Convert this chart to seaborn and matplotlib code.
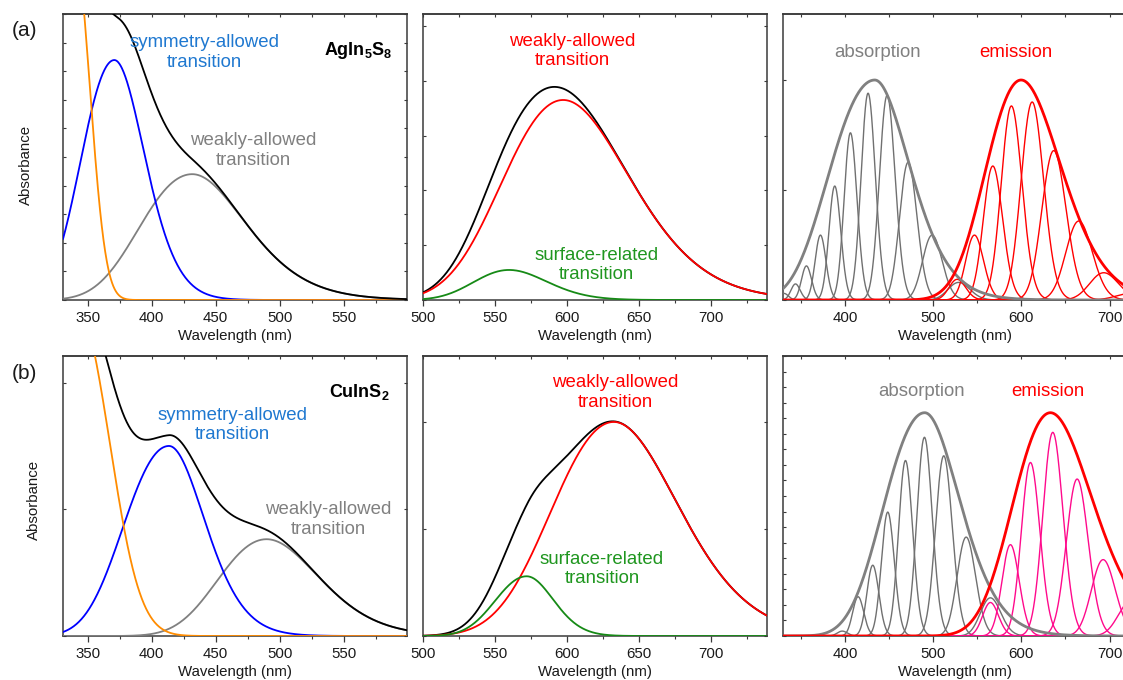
import numpy as np
import matplotlib
matplotlib.use("Agg")
import matplotlib.pyplot as plt
from matplotlib.ticker import MultipleLocator, FixedLocator
import seaborn as sns

HC = 1239.84  # eV * nm

# ---------------- (a) AgIn5S8 ----------------
# absorption decomposition: band-edge tail, symmetry-allowed, weakly-allowed
agis_abs_center = [330.0, 370.8, 431.7]
agis_abs_height = [1.387, 0.839, 0.44]
agis_abs_sig_hi = [0.2154, 0.245, 0.29]
agis_abs_sig_lo = [0.2154, 0.20, 0.255]
agis_abs_power = [3.0, 2.0, 2.0]

# photoluminescence decomposition: weakly-allowed, surface-related
agis_pl_center = [597.6, 560.0]
agis_pl_height = [0.912, 0.137]
agis_pl_sig_hi = [0.155, 0.10]
agis_pl_sig_lo = [0.15, 0.10]

# vibronic progressions (absorption / emission)
agis_vib_abs_center = [331.0, 344.0, 356.4, 372.3, 388.5, 406.3, 426.3, 447.9, 471.7, 498.9, 529.0]
agis_vib_abs_height = [0.03, 0.073, 0.155, 0.295, 0.518, 0.76, 0.94, 0.93, 0.626, 0.295, 0.08]
agis_vib_abs_sigma = 0.055
agis_vib_em_center = [527.3, 546.9, 567.7, 588.8, 612.3, 636.8, 665.2, 693.5, 725.0]
agis_vib_em_height = [0.094, 0.295, 0.609, 0.882, 0.90, 0.679, 0.359, 0.124, 0.03]
agis_vib_em_sigma = 0.042
agis_env_center = [433.9, 599.8]
agis_env_height = [1.0, 1.0]
agis_env_sig_hi = [0.37, 0.145]
agis_env_sig_lo = [0.24, 0.145]

# ---------------- (b) CuInS2 ----------------
cis_abs_center = [330.0, 413.5, 489.8]
cis_abs_height = [1.362, 0.75, 0.382]
cis_abs_sig_hi = [0.3628, 0.27, 0.205]
cis_abs_sig_lo = [0.3628, 0.19, 0.195]
cis_abs_power = [3.0, 2.0, 2.0]

cis_pl_center = [632.8, 572.2]
cis_pl_height = [1.0, 0.279]
cis_pl_sig_hi = [0.14, 0.084]
cis_pl_sig_lo = [0.13, 0.068]

cis_vib_abs_center = [397.0, 415.0, 431.6, 448.6, 468.7, 490.2, 512.1, 537.5, 565.0]
cis_vib_abs_height = [0.022, 0.176, 0.317, 0.555, 0.786, 0.89, 0.807, 0.443, 0.171]
cis_vib_abs_sigma = 0.045
cis_vib_em_center = [565.0, 587.7, 610.4, 635.7, 663.3, 692.8, 725.0]
cis_vib_em_height = [0.15, 0.409, 0.777, 0.912, 0.703, 0.342, 0.16]
cis_vib_em_sigma = 0.035
cis_env_center = [490.5, 633.0]
cis_env_height = [1.0, 1.0]
cis_env_sig_hi = [0.255, 0.138]
cis_env_sig_lo = [0.19, 0.138]

# ---------------- colours ----------------
C_ORANGE = "#ff8c00"
C_BLUE = "#0000ff"
C_BLUE_TXT = "#1f78d0"
C_GRAY = "#808080"
C_GRAY_COMP = "#707070"
C_RED = "#ff0000"
C_GREEN = "#168a16"
C_GREEN_TXT = "#1f961f"
C_PINK = "#ff0a8c"
C_SPINE = "#3a3a3a"


def band(wl, center, height, sig_hi, sig_lo, power=2.0):
    """(Generalised) Gaussian band on an energy scale, evaluated on a wavelength grid."""
    d = HC / wl - HC / center
    s = np.where(d > 0, sig_hi, sig_lo)
    return height * np.exp(-0.5 * np.abs(d / s) ** power)


def draw(ax, x, y, color, lw=1.3, z=3):
    sns.lineplot(x=x, y=y, ax=ax, color=color, lw=lw, estimator=None,
                 sort=False, legend=False, zorder=z)


def style_axes(ax, xlim, major, minor, ylim, yticks):
    ax.set_xlim(*xlim)
    ax.set_ylim(*ylim)
    ax.xaxis.set_major_locator(MultipleLocator(major))
    ax.xaxis.set_minor_locator(MultipleLocator(minor))
    ax.yaxis.set_major_locator(FixedLocator(yticks))
    ax.tick_params(axis="x", which="major", direction="out", length=4.5, width=0.9,
                   color=C_SPINE, labelsize=10.8, pad=3.5, bottom=True, top=False,
                   labelcolor="#1a1a1a")
    ax.tick_params(axis="x", which="minor", direction="out", length=2.5, width=0.8,
                   color=C_SPINE, bottom=True, top=False)
    ax.tick_params(axis="y", which="major", direction="in", length=2.5, width=0.8,
                   color=C_SPINE, left=True, right=True, labelleft=False)
    top = ax.secondary_xaxis("top")
    top.xaxis.set_major_locator(MultipleLocator(minor))
    top.tick_params(direction="in", length=2.5, width=0.8, color=C_SPINE, labeltop=False)
    top.spines["top"].set_color(C_SPINE)
    top.spines["top"].set_linewidth(1.1)
    for sp in ax.spines.values():
        sp.set_color(C_SPINE)
        sp.set_linewidth(1.1)
    ax.set_xlabel("Wavelength (nm)", fontsize=10.8, labelpad=2.5, color="#1a1a1a")
    ax.set_ylabel("")


sns.set_theme(style="white")
plt.rcParams["font.family"] = ["Liberation Sans", "DejaVu Sans"]
plt.rcParams["mathtext.fontset"] = "custom"
plt.rcParams["mathtext.rm"] = "Liberation Sans"
plt.rcParams["mathtext.bf"] = "Liberation Sans:bold"

W, H = 1123, 680
fig = plt.figure(figsize=(W / 100, H / 100), dpi=100)


def add_axes(left_px, top_px, w_px, h_px):
    return fig.add_axes([left_px / W, 1 - (top_px + h_px) / H, w_px / W, h_px / H])


LABEL_KW = dict(ha="center", va="center", fontsize=13.4, linespacing=1.2)

rows = [
    dict(top=14, h=286, tag="(a)", tag_y=30,
         abs_c=agis_abs_center, abs_h=agis_abs_height, abs_hi=agis_abs_sig_hi,
         abs_lo=agis_abs_sig_lo, abs_p=agis_abs_power,
         pl_c=agis_pl_center, pl_h=agis_pl_height, pl_hi=agis_pl_sig_hi, pl_lo=agis_pl_sig_lo,
         va_c=agis_vib_abs_center, va_h=agis_vib_abs_height, va_s=agis_vib_abs_sigma,
         ve_c=agis_vib_em_center, ve_h=agis_vib_em_height, ve_s=agis_vib_em_sigma,
         env_c=agis_env_center, env_h=agis_env_height, env_hi=agis_env_sig_hi, env_lo=agis_env_sig_lo,
         em_comp_color=C_RED,
         left_ylim=(0, 1.0), left_yticks=np.arange(0, 1.01, 0.1),
         mid_ylim=(0, 1.304), mid_yticks=np.arange(0, 1.31, 0.25),
         right_ylim=(0, 1.3), right_yticks=np.arange(0, 1.31, 0.5),
         compound=r"AgIn$_\mathbf{5}$S$_\mathbf{8}$", comp_xy=(0.959, 0.857),
         sym_xy=(0.41, 0.866), weak_xy=(0.552, 0.523),
         red_xy=(0.435, 0.870), green_xy=(0.506, 0.122),
         absn_xy=(0.2765, 0.865), emis_xy=(0.677, 0.865),
         ylab_xy=(-0.087, 0.472)),
    dict(top=356, h=280, tag="(b)", tag_y=373,
         abs_c=cis_abs_center, abs_h=cis_abs_height, abs_hi=cis_abs_sig_hi,
         abs_lo=cis_abs_sig_lo, abs_p=cis_abs_power,
         pl_c=cis_pl_center, pl_h=cis_pl_height, pl_hi=cis_pl_sig_hi, pl_lo=cis_pl_sig_lo,
         va_c=cis_vib_abs_center, va_h=cis_vib_abs_height, va_s=cis_vib_abs_sigma,
         ve_c=cis_vib_em_center, ve_h=cis_vib_em_height, ve_s=cis_vib_em_sigma,
         env_c=cis_env_center, env_h=cis_env_height, env_hi=cis_env_sig_hi, env_lo=cis_env_sig_lo,
         em_comp_color=C_PINK,
         left_ylim=(0, 1.105), left_yticks=[0, 0.5, 1.0],
         mid_ylim=(0, 1.308), mid_yticks=[0, 0.5, 1.0],
         right_ylim=(0, 1.254), right_yticks=np.linspace(0, 1.254, 19),
         compound=r"CuInS$_\mathbf{2}$", comp_xy=(0.9506, 0.855),
         sym_xy=(0.492, 0.754), weak_xy=(0.772, 0.416),
         red_xy=(0.5596, 0.869), green_xy=(0.521, 0.2386),
         absn_xy=(0.405, 0.875), emis_xy=(0.77, 0.875),
         ylab_xy=(-0.064, 0.4875)),
]

for r in rows:
    # ---- absorption decomposition ----
    ax = add_axes(63, r["top"], 344, r["h"])
    xlim = (330.7, 599.5)
    wl = np.linspace(*xlim, 800)
    comps = [band(wl, c, h, s1, s2, p) for c, h, s1, s2, p in
             zip(r["abs_c"], r["abs_h"], r["abs_hi"], r["abs_lo"], r["abs_p"])]
    draw(ax, wl, comps[2], C_GRAY)
    draw(ax, wl, comps[1], C_BLUE)
    draw(ax, wl, comps[0], C_ORANGE)
    draw(ax, wl, np.sum(comps, axis=0), "black")
    style_axes(ax, xlim, 50, 25, r["left_ylim"], r["left_yticks"])
    ax.set_ylabel("Absorbance", fontsize=10.8, color="#1a1a1a")
    ax.yaxis.set_label_coords(*r["ylab_xy"])
    ax.text(*r["sym_xy"], "symmetry-allowed\ntransition", color=C_BLUE_TXT,
            transform=ax.transAxes, **LABEL_KW)
    ax.text(*r["weak_xy"], "weakly-allowed\ntransition", color=C_GRAY,
            transform=ax.transAxes, **LABEL_KW)
    ax.text(*r["comp_xy"], r["compound"], ha="right", va="baseline", fontsize=13,
            fontweight="bold", color="black", transform=ax.transAxes)
    fig.text(12 / W, 1 - r["tag_y"] / H, r["tag"], ha="left", va="center",
             fontsize=15, color="#1a1a1a")

    # ---- emission decomposition ----
    ax = add_axes(422.7, r["top"], 344, r["h"])
    xlim = (500, 739)
    wl = np.linspace(*xlim, 800)
    comps = [band(wl, c, h, s1, s2) for c, h, s1, s2 in
             zip(r["pl_c"], r["pl_h"], r["pl_hi"], r["pl_lo"])]
    draw(ax, wl, np.sum(comps, axis=0), "black")
    draw(ax, wl, comps[0], C_RED)
    draw(ax, wl, comps[1], C_GREEN)
    style_axes(ax, xlim, 50, 25, r["mid_ylim"], r["mid_yticks"])
    ax.text(*r["red_xy"], "weakly-allowed\ntransition", color=C_RED,
            transform=ax.transAxes, **LABEL_KW)
    ax.text(*r["green_xy"], "surface-related\ntransition", color=C_GREEN_TXT,
            transform=ax.transAxes, **LABEL_KW)

    # ---- vibronic progressions ----
    ax = add_axes(782.7, r["top"], 344, r["h"])
    xlim = (329.5, 719.5)
    wl = np.linspace(*xlim, 1200)
    for c, h in zip(r["va_c"], r["va_h"]):
        draw(ax, wl, band(wl, c, h, r["va_s"], r["va_s"]), C_GRAY_COMP, lw=1.0)
    for c, h in zip(r["ve_c"], r["ve_h"]):
        draw(ax, wl, band(wl, c, h, r["ve_s"], r["ve_s"]), r["em_comp_color"], lw=1.0)
    draw(ax, wl, band(wl, r["env_c"][0], r["env_h"][0], r["env_hi"][0], r["env_lo"][0]),
         C_GRAY, lw=2.0, z=4)
    draw(ax, wl, band(wl, r["env_c"][1], r["env_h"][1], r["env_hi"][1], r["env_lo"][1]),
         C_RED, lw=2.0, z=4)
    style_axes(ax, xlim, 100, 50, r["right_ylim"], r["right_yticks"])
    ax.text(*r["absn_xy"], "absorption", color=C_GRAY, transform=ax.transAxes, **LABEL_KW)
    ax.text(*r["emis_xy"], "emission", color=C_RED, transform=ax.transAxes, **LABEL_KW)

fig.savefig("out.png", dpi=100)
